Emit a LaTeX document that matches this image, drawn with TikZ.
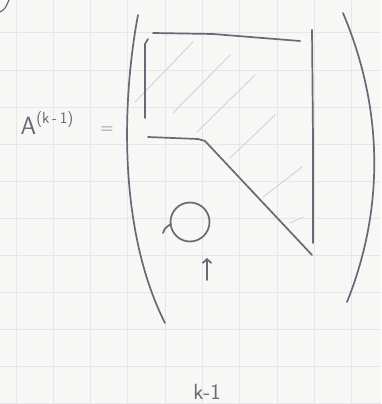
\documentclass[tikz,border=0pt]{standalone}
\usepackage{amsmath}
\usepackage{tikz}
\usetikzlibrary{arrows.meta, calc}
\definecolor{paper}{RGB}{247,247,246}
\definecolor{gridgray}{RGB}{230,230,233}
\definecolor{pencil}{RGB}{104,104,118}
\tikzset{
  gridline/.style={draw=gridgray, line width=1pt},
  pencilline/.style={draw=pencil, line width=1.7pt, line cap=round, line join=round},
  hatchline/.style={draw=pencil!30, line width=0.9pt, line cap=round},
  pencillabel/.style={text=pencil, inner sep=0pt, font=\sffamily},
  pencilarrow/.style={pencilline, -{Straight Barb[length=4pt, width=9pt]}},
}
\begin{document}
\begin{tikzpicture}[x=1pt, y=-1pt]
  % Paper
  \fill[paper] (0,0) rectangle (381,404);
  \useasboundingbox (0,0) rectangle (381,404);
  \foreach \gx in {16,53.3,...,370} {
    \draw[gridline] (\gx,0) -- (\gx,404);
  }
  \foreach \gy in {33,70,...,404} {
    \draw[gridline] (0,\gy) -- (381,\gy);
  }
  \draw[pencilline, line width=1.2pt] (0,12) .. controls (5,9) .. (9,0);

  % Brackets
  \draw[pencilline] (138,15) .. controls (122,100) and (118,230) .. (165,323);
  \draw[pencilline] (343,13) .. controls (384,110) and (384,210) .. (347,302);

  % Hatching of the upper block
  \draw[hatchline] (135,102) -- (193,42);
  \draw[hatchline] (173,113) -- (230,55);
  \draw[hatchline] (197,132) -- (255,75);
  \draw[hatchline] (230,158) -- (275,115);
  \draw[hatchline] (263,197) -- (302,167);
  \draw[hatchline] (290,223) -- (303,217);

  % Block outline
  \draw[pencilline] (153,33) -- (213,34) -- (300,41);
  \draw[pencilline] (148,39) -- (145,44) -- (145,118);
  \draw[pencilline] (312,30) -- (313,140) -- (313,243);
  \draw[pencilline] (148,137) -- (198,139) -- (205,141) -- (312,255);

  % Zero block
  \draw[pencilline] (190,222) circle[radius=19.5];
  \draw[pencilline] (163,233) .. controls (165,228) .. (171,224);

  % Labels
  \node[pencillabel] (alabel) at (47,123) {\fontsize{25}{27}\selectfont A\raisebox{11pt}{\fontsize{16}{17}\selectfont (k\,-\,1)}};
  \node[pencillabel] (eqsign) at (107,130) {\fontsize{18}{20}\selectfont =};
  \node[pencillabel] (kmone) at (207,392) {\fontsize{22}{24}\selectfont k-1};
  \coordinate (arrowtail) at (207,280);
  \coordinate (arrowtip) at (207,258);
  \draw[pencilarrow] (arrowtail) -- (arrowtip);
\end{tikzpicture}
\end{document}
